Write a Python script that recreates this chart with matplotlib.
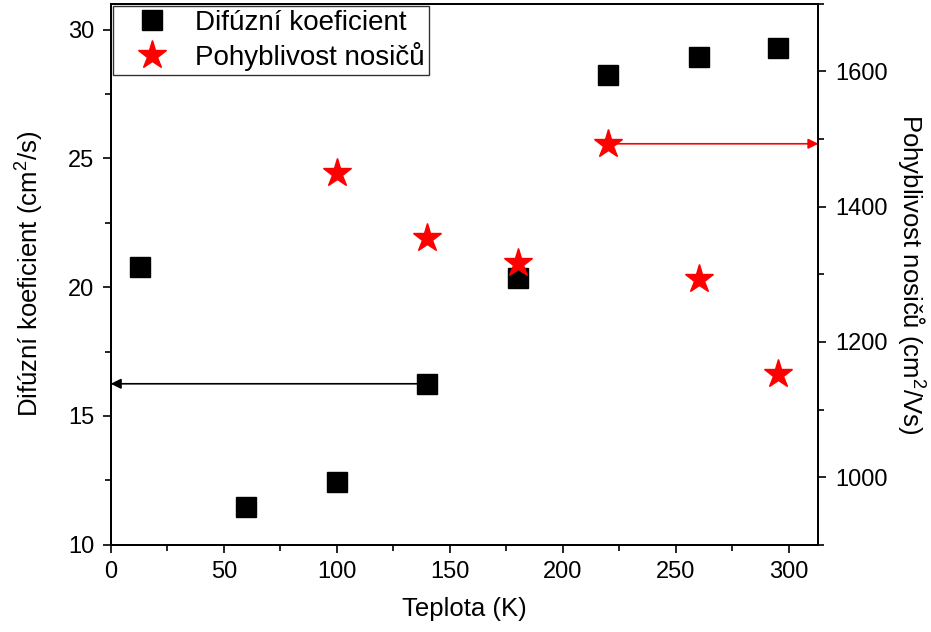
import matplotlib
matplotlib.use("Agg")
import matplotlib.pyplot as plt
from matplotlib.ticker import MultipleLocator

plt.rcParams["font.family"] = ["Liberation Sans", "DejaVu Sans"]
plt.rcParams["mathtext.fontset"] = "custom"
plt.rcParams["mathtext.rm"] = "Liberation Sans"
plt.rcParams["mathtext.it"] = "Liberation Sans"
plt.rcParams["mathtext.bf"] = "Liberation Sans"

# diffusion coefficient (left axis)
t_dif = [13, 60, 100, 140, 180, 220, 260, 295]
dif = [20.8, 11.45, 12.45, 16.25, 20.35, 28.25, 28.95, 29.3]

# carrier mobility (right axis)
t_mob = [100, 140, 180, 220, 260, 295]
mob = [1450, 1353, 1317, 1493, 1293, 1152]

fig, ax = plt.subplots(figsize=(9.31, 6.32), dpi=100)
fig.subplots_adjust(left=0.119, right=0.879, top=0.994, bottom=0.138)
ax2 = ax.twinx()

l1, = ax.plot(t_dif, dif, ls="none", marker="s", ms=14.5, color="black",
              label="Difúzní koeficient")
l2, = ax2.plot(t_mob, mob, ls="none", marker="*", ms=21, color="red",
               mec="red", label="Pohyblivost nosičů")

ax.set_xlim(0, 313)
ax.set_ylim(10, 31)
ax2.set_ylim(900, 1700)

ax.xaxis.set_major_locator(MultipleLocator(50))
ax.xaxis.set_minor_locator(MultipleLocator(25))
ax.yaxis.set_major_locator(MultipleLocator(5))
ax.yaxis.set_minor_locator(MultipleLocator(2.5))
ax2.yaxis.set_major_locator(MultipleLocator(200))
ax2.yaxis.set_minor_locator(MultipleLocator(100))

for a in (ax, ax2):
    a.tick_params(which="major", direction="out", length=6, width=1.2,
                  labelsize=17, pad=6)
    a.tick_params(which="minor", direction="out", length=4, width=1.2)
    for s in a.spines.values():
        s.set_linewidth(1.3)

ax.set_xlabel("Teplota (K)", fontsize=18.5, labelpad=10)
ax.set_ylabel("Difúzní koeficient (cm$^2$/s)", fontsize=18.5, labelpad=16)
ax2.set_ylabel("Pohyblivost nosičů (cm$^2$/Vs)", fontsize=18.5,
               rotation=270, labelpad=28)

# arrows pointing to the respective axes
ax.annotate("", xy=(0, dif[3]), xytext=(t_dif[3], dif[3]),
            arrowprops=dict(arrowstyle="-|>", color="black", lw=1.2,
                            mutation_scale=15, shrinkA=0, shrinkB=0))
ax2.annotate("", xy=(313, mob[3]), xytext=(t_mob[3], mob[3]),
             arrowprops=dict(arrowstyle="-|>", color="red", lw=1.2,
                             mutation_scale=15, shrinkA=0, shrinkB=0))

leg = ax.legend(handles=[l1, l2], loc="upper left", fontsize=20,
                frameon=True, fancybox=False, edgecolor="black",
                borderaxespad=0.08, handletextpad=0.3, borderpad=0.15,
                labelspacing=0.2, handlelength=2.5)
leg.get_frame().set_linewidth(1.0)
leg.set_zorder(5)

fig.savefig("out.png", dpi=100)
